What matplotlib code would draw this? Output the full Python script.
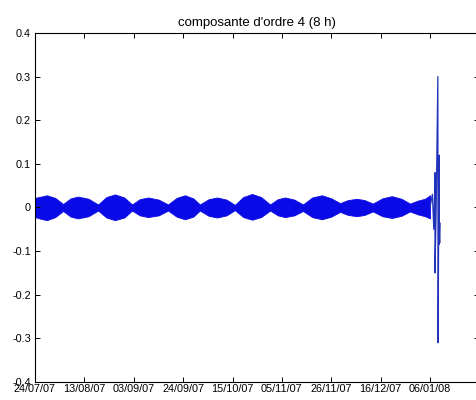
import matplotlib

matplotlib.use("Agg")
import matplotlib.pyplot as plt
import numpy as np

# envelope of the 8 h component (days since 24/07/07)
env_day = [0, 2.5, 5.0, 8.5, 11.8, 15, 18.1, 22.5, 26.5, 30, 33.6, 37.5, 40.8, 44,
           47.5, 52, 55.9, 59.5, 63.0, 66.5, 69.3, 73, 76.5, 80.5, 84.0, 87.5, 91.2,
           95, 98.8, 102, 105.1, 109, 112.6, 116.5, 120.6, 124.5, 128.2, 131.5,
           135.3, 138.5, 142.0, 146, 150.0, 154, 157.6, 161, 163.9, 166.0]
env_up = [0.022, 0.025, 0.028, 0.022, 0.008, 0.021, 0.025, 0.020, 0.007, 0.024,
          0.030, 0.023, 0.007, 0.019, 0.023, 0.018, 0.007, 0.022, 0.028, 0.021,
          0.007, 0.019, 0.023, 0.018, 0.006, 0.024, 0.031, 0.024, 0.007, 0.019,
          0.023, 0.018, 0.007, 0.023, 0.028, 0.021, 0.010, 0.017, 0.020, 0.017,
          0.009, 0.021, 0.026, 0.020, 0.009, 0.016, 0.020, 0.028]
env_lo = [-0.022, -0.026, -0.029, -0.022, -0.008, -0.021, -0.025, -0.020, -0.007,
          -0.023, -0.029, -0.023, -0.007, -0.018, -0.022, -0.018, -0.007, -0.021,
          -0.027, -0.021, -0.007, -0.019, -0.023, -0.018, -0.006, -0.022, -0.028,
          -0.022, -0.007, -0.018, -0.022, -0.018, -0.008, -0.022, -0.027, -0.021,
          -0.010, -0.017, -0.020, -0.017, -0.009, -0.020, -0.024, -0.019, -0.009,
          -0.016, -0.020, -0.025]

# burst at the end of the record
burst_day = [166.0, 167.0, 167.6, 168.1, 168.1, 168.6, 169.3, 169.4, 169.8, 169.8,
             170.1, 170.2]
burst_val = [0.0, 0.03, -0.05, 0.08, -0.15, 0.0, 0.30, -0.31, 0.12, -0.085,
             -0.035, -0.08]

tick_days = np.linspace(0, 166, 9)
tick_labels = ["24/07/07", "13/08/07", "03/09/07", "24/09/07", "15/10/07",
               "05/11/07", "26/11/07", "16/12/07", "06/01/08"]
ytick_vals = [-0.4, -0.3, -0.2, -0.1, 0, 0.1, 0.2, 0.3, 0.4]
ytick_labels = ["-0.4", "-0.3", "-0.2", "-0.1", "0", "0.1", "0.2", "0.3", "0.4"]

plt.rcParams["font.family"] = ["Liberation Sans", "DejaVu Sans"]

fig = plt.figure(figsize=(4.77, 4.0), dpi=100)
ax = fig.add_axes([35 / 477, 18 / 400, 444 / 477, 349 / 400])

blue = "#0a0ae6"
ax.fill_between(env_day, env_lo, env_up, color=blue, lw=0.6, edgecolor=blue)
ax.plot(burst_day, burst_val, color="#2233bb", lw=0.9)

ax.set_xlim(0, 166 * 444 / 395)
ax.set_ylim(-0.4, 0.4)
ax.set_xticks(tick_days)
ax.set_xticklabels(tick_labels)
ax.set_yticks(ytick_vals)
ax.set_yticklabels(ytick_labels)
ax.tick_params(direction="in", top=True, right=True, length=3.5, width=0.7,
               labelsize=7.8, colors="black")
ax.tick_params(axis="x", pad=1.5)
ax.tick_params(axis="y", pad=3)
for sp in ax.spines.values():
    sp.set_linewidth(0.8)

ax.set_title("composante d'ordre 4 (8 h)", fontsize=9.5, pad=5)

fig.savefig("out.png", dpi=100)
